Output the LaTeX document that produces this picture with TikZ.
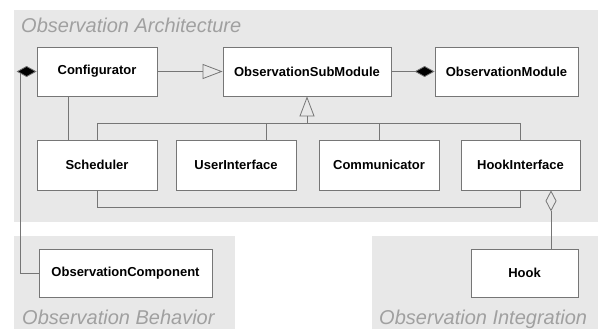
\documentclass[tikz,border=0pt]{standalone}
\usepackage{fontspec}
\setmainfont{Liberation Sans}
\usetikzlibrary{arrows.meta}
\definecolor{bggrey}{HTML}{E8E8E8}
\definecolor{linegrey}{HTML}{767676}
\definecolor{titlegrey}{HTML}{A0A0A0}
\tikzset{
  cls/.style={draw=linegrey, line width=0.8pt, fill=white, inner sep=0pt,
    minimum height=49pt, font=\fontsize{13}{15}\selectfont\bfseries},
  conn/.style={draw=linegrey, line width=0.8pt},
  gen/.style={conn, -{Triangle[open, length=20pt, width=15pt]}},
  comp/.style={conn, -{Diamond[fill=black, length=20pt, width=11pt]}},
  agg/.style={conn, -{Diamond[open, length=21pt, width=11pt]}},
  area/.style={fill=bggrey, draw=none},
  areatitle/.style={text=titlegrey, font=\fontsize{20}{24}\selectfont\itshape, inner sep=0pt, anchor=base west},
}
\begin{document}
\begin{tikzpicture}[x=1pt, y=-1pt]
\useasboundingbox (0,0) rectangle (599,329);
% areas
\fill[area] (14,10) rectangle (598,222);
\fill[area] (14,236) rectangle (235,329);
\fill[area] (372,236) rectangle (598,329);
\node[areatitle] (tarch) at (21,33) {Observation Architecture};
\node[areatitle] (tbeh) at (22,324) {Observation Behavior};
\node[areatitle] (tint) at (379,324) {Observation Integration};
% classes
\node[cls, minimum width=120pt] (conf) at (97,71.5) {Configurator};
\node[cls, minimum width=168pt] (sub) at (307,71.5) {ObservationSubModule};
\node[cls, minimum width=143pt] (mod) at (506.5,71.5) {ObservationModule};
\node[cls, minimum width=120pt, minimum height=50pt] (sched) at (97,165) {Scheduler};
\node[cls, minimum width=120pt, minimum height=50pt] (ui) at (236,165) {UserInterface};
\node[cls, minimum width=120pt, minimum height=50pt] (comm) at (379,165) {Communicator};
\node[cls, minimum width=119pt, minimum height=50pt] (hi) at (520.5,165) {HookInterface};
\node[cls, minimum width=173pt, minimum height=48pt] (oc) at (125.5,273) {ObservationComponent};
\node[cls, minimum width=107pt, minimum height=48pt] (hook) at (524.5,273) {Hook};
% connectors
\draw[gen] (conf.east) -- (sub.west);
\draw[comp] (sub.east) -- (mod.west);
\coordinate (bus) at (307,123);
\draw[gen] (bus) -- (sub.south);
\draw[conn] (sched.north) |- (bus);
\draw[conn] (hi.north) |- (bus);
\draw[conn] (comm.north) -- (comm.north |- bus);
\draw[conn] ([xshift=30pt]ui.north) -- ([xshift=30pt]ui.north |- bus);
\draw[conn] ([xshift=-29pt]conf.south) -- ([xshift=-29pt]sched.north);
\coordinate (lowbus) at (97,207);
\draw[conn] (sched.south) -- (lowbus) -| (hi.south);
\draw[agg] ([xshift=26.5pt]hook.north) -- ([xshift=26.5pt]hook.north |- hi.south);
\coordinate (corner) at (20,273);
\coordinate (upper) at (20,71.5);
\draw[comp] (oc.west) -- (corner) -- (upper) -- (conf.west);
\end{tikzpicture}
\end{document}
